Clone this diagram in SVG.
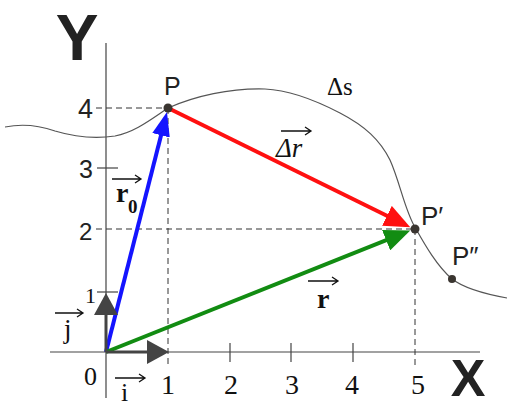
<svg xmlns="http://www.w3.org/2000/svg" width="511" height="408" viewBox="0 0 511 408">
<style>
.ax{stroke:#444;stroke-width:1.2;fill:none}
.dash{stroke:#333;stroke-width:1;stroke-dasharray:6,4;fill:none}
.curve{stroke:#555;stroke-width:1.2;fill:none}
.sans{font-family:"Liberation Sans",Arial,sans-serif;fill:#222}
.serif{font-family:"Liberation Serif","Times New Roman",serif;fill:#111}
.dot{fill:#3a3530}
.over{stroke:#111;stroke-width:1.3;fill:none}
</style>
<defs>
<marker id="hb" markerUnits="userSpaceOnUse" markerWidth="24" markerHeight="18" refX="12" refY="9" orient="auto"><path d="M0,0 L24,9 L0,18 z" fill="#1414ff"/></marker>
<marker id="hr" markerUnits="userSpaceOnUse" markerWidth="26" markerHeight="22" refX="13" refY="11" orient="auto"><path d="M0,0 L26,11 L0,22 z" fill="#ff1010"/></marker>
<marker id="hg" markerUnits="userSpaceOnUse" markerWidth="26" markerHeight="22" refX="13" refY="11" orient="auto"><path d="M0,0 L26,11 L0,22 z" fill="#128c12"/></marker>
<marker id="hu" markerUnits="userSpaceOnUse" markerWidth="22" markerHeight="24" refX="1" refY="12" orient="auto"><path d="M0,0 L22,12 L0,24 z" fill="#444"/></marker>
</defs>

<g id="axes">
<line class="ax" x1="106" y1="43" x2="106" y2="398"/>
<line class="ax" x1="50" y1="352" x2="480" y2="352"/>
<line class="ax" x1="97" y1="168" x2="118" y2="168"/>
<line class="ax" x1="97" y1="292" x2="118" y2="292"/>
<line class="ax" x1="230" y1="343" x2="230" y2="362"/>
<line class="ax" x1="291" y1="343" x2="291" y2="362"/>
<line class="ax" x1="353" y1="343" x2="353" y2="362"/>
<text class="sans" x="77" y="60" font-size="64" font-weight="bold" fill="#111" text-anchor="middle">Y</text>
<text class="sans" x="468" y="396" font-size="52" font-weight="bold" text-anchor="middle" fill="#111">X</text>
<text class="sans" x="78" y="118" font-size="27">4</text>
<text class="sans" x="79" y="178" font-size="25">3</text>
<text class="sans" x="79" y="240" font-size="24">2</text>
<text class="serif" x="85" y="303" font-size="22">1</text>
<text class="serif" x="84" y="385" font-size="26">0</text>
<text class="serif" x="168" y="394" font-size="28" text-anchor="middle">1</text>
<text class="serif" x="231" y="394" font-size="28" text-anchor="middle">2</text>
<text class="serif" x="292" y="394" font-size="28" text-anchor="middle">3</text>
<text class="serif" x="352" y="394" font-size="28" text-anchor="middle">4</text>
<text class="serif" x="418" y="394" font-size="28" text-anchor="middle">5</text>
</g>

<g id="guides">
<line class="dash" x1="96" y1="108" x2="168" y2="108"/>
<line class="dash" x1="168" y1="108" x2="168" y2="364"/>
<line class="dash" x1="96" y1="229" x2="414" y2="229"/>
<line class="dash" x1="415" y1="229" x2="415" y2="366"/>
</g>

<g id="path-curve">
<path class="curve" d="M5,127 C20,124 35,124 55,131 C75,137 95,139 115,136 C135,132 150,120 168,108 C195,96 230,88 265,89 C290,90 315,100 340,113 C365,126 380,140 390,160 C400,182 405,212 416,229 C425,245 437,266 452,279 C465,289 485,294 507,298"/>
<text class="serif" x="327" y="95" font-size="25">Δs</text>
</g>

<g id="connectors">
<line x1="106" y1="352" x2="164.0" y2="123.7" stroke="#1414ff" stroke-width="4" marker-end="url(#hb)"/>
<line x1="168" y1="108" x2="398.6" y2="221.5" stroke="#ff1010" stroke-width="4" marker-end="url(#hr)"/>
<line x1="106" y1="352" x2="398.2" y2="235.3" stroke="#128c12" stroke-width="4" marker-end="url(#hg)"/>
<line x1="106" y1="352" x2="106" y2="314" stroke="#444" stroke-width="3" marker-end="url(#hu)"/>
<line x1="106" y1="352" x2="148" y2="352" stroke="#444" stroke-width="3" marker-end="url(#hu)"/>
</g>

<g id="node-P">
<circle class="dot" cx="168" cy="108" r="4.5"/>
<text class="sans" x="164" y="95" font-size="25">P</text>
</g>
<g id="node-P1">
<circle class="dot" cx="415" cy="229" r="4.5"/>
<text class="sans" x="421" y="225" font-size="26">P′</text>
</g>
<g id="node-P2">
<circle class="dot" cx="452" cy="279" r="4"/>
<text class="sans" x="452" y="265" font-size="26">P″</text>
</g>

<g id="label-r0">
<path class="over" d="M112,179 H141 M135,175 L141,179 L135,183"/>
<text class="serif" x="116" y="202" font-size="28" font-weight="bold">r</text>
<text class="serif" x="128" y="213" font-size="19" font-weight="bold">0</text>
</g>
<g id="label-dr">
<path class="over" d="M281,131 H311 M305,127 L311,131 L305,135"/>
<text class="serif" x="276" y="157" font-size="27" font-style="italic">Δr</text>
</g>
<g id="label-r">
<path class="over" d="M308,281 H338 M332,277 L338,281 L332,285"/>
<text class="serif" x="317" y="308" font-size="28" font-weight="bold">r</text>
</g>
<g id="label-j">
<path class="over" d="M55,313 H83 M77,309 L83,313 L77,317"/>
<text class="serif" x="64" y="338" font-size="27">j</text>
</g>
<g id="label-i">
<path class="over" d="M115,378 H145 M139,374 L145,378 L139,382"/>
<text class="serif" x="121" y="401" font-size="26">i</text>
</g>
</svg>
